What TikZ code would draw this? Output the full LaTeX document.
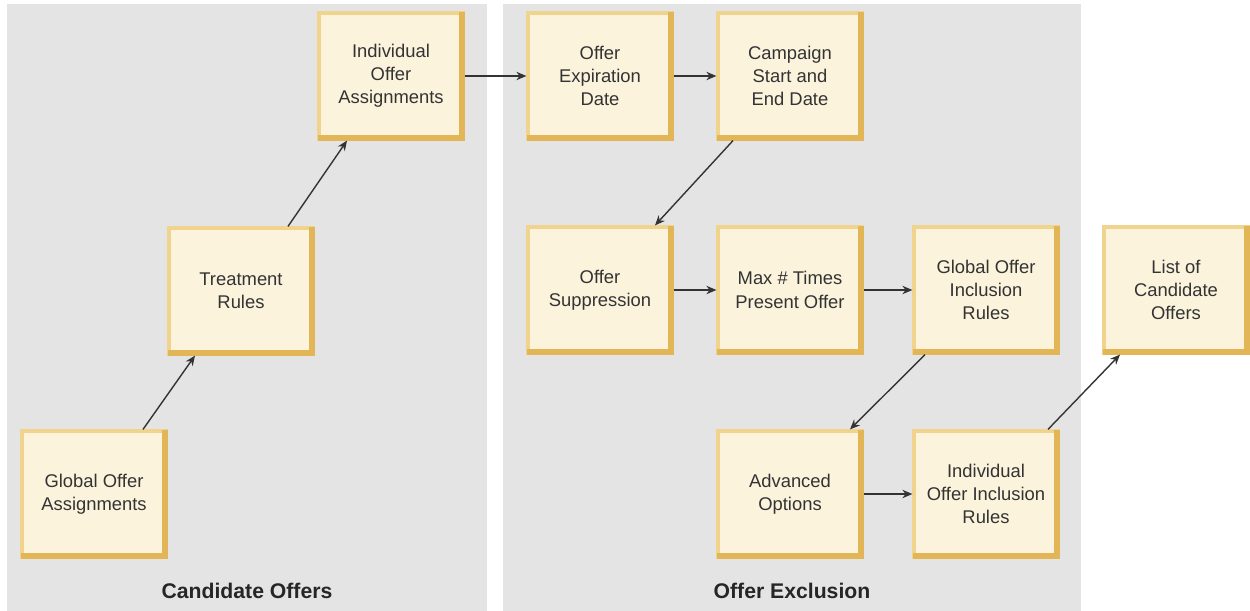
\documentclass[tikz,border=0pt]{standalone}
\usepackage{fontspec}
\setmainfont{Liberation Sans}
\usetikzlibrary{arrows.meta}
\definecolor{panel}{HTML}{E4E4E4}
\definecolor{cream}{HTML}{FBF3DC}
\definecolor{goldl}{HTML}{F0D48E}
\definecolor{goldd}{HTML}{E2B556}
\definecolor{txt}{HTML}{333333}
\tikzset{
  stepbox/.style={draw=goldl, line width=1.6pt, fill=cream, minimum width=72pt, minimum height=63pt,
    inner sep=2pt, align=center, text=txt, font=\fontsize{9.2}{11.6}\selectfont},
  arr/.style={draw=txt, line width=0.7pt, -{Stealth[length=5pt,width=4.2pt]}},
  paneltitle/.style={font=\fontsize{10.6}{12}\selectfont\bfseries, text=black!85}
}
\begin{document}
\begin{tikzpicture}[x=0.5pt,y=-0.5pt]
\useasboundingbox (0,0) rectangle (1250,611);
\fill[panel] (7,4) rectangle (487,611);
\fill[panel] (503,4) rectangle (1081,611);

\node[stepbox] (goa) at (94,494) {Global Offer\\Assignments};
\node[stepbox] (tr) at (241,291) {Treatment\\Rules};
\node[stepbox] (ioa) at (391,76) {Individual\\Offer\\Assignments};
\node[stepbox] (oed) at (600,76) {Offer\\Expiration\\Date};
\node[stepbox] (cse) at (790,76) {Campaign\\Start and\\End Date};
\node[stepbox] (os) at (600,290) {Offer\\Suppression};
\node[stepbox] (max) at (790,290) {Max \# Times\\Present Offer};
\node[stepbox] (goir) at (986,290) {Global Offer\\Inclusion\\Rules};
\node[stepbox] (lco) at (1176,290) {List of\\Candidate\\Offers};
\node[stepbox] (ao) at (790,494) {Advanced\\Options};
\node[stepbox] (ioir) at (986,494) {Individual\\Offer Inclusion\\Rules};

\foreach \n in {goa,tr,ioa,oed,cse,os,max,goir,lco,ao,ioir}{
  \draw[goldd, line width=3pt, line cap=rect]
    ([xshift=2pt,yshift=1.5pt]\n.south west) -- ([xshift=-1.5pt,yshift=1.5pt]\n.south east)
    -- ([xshift=-1.5pt,yshift=-2pt]\n.north east);
}

\draw[arr] ([xshift=24.5pt]goa.north) -- ([xshift=-23pt]tr.south);
\draw[arr] ([xshift=23.5pt]tr.north) -- ([xshift=-22pt]ioa.south);
\draw[arr] (ioa.east) -- (oed.west);
\draw[arr] (oed.east) -- (cse.west);
\draw[arr] ([xshift=-28.5pt]cse.south) -- ([xshift=27.5pt]os.north);
\draw[arr] (os.east) -- (max.west);
\draw[arr] (max.east) -- (goir.west);
\draw[arr] ([xshift=-30.5pt]goir.south) -- ([xshift=30pt]ao.north);
\draw[arr] (ao.east) -- (ioir.west);
\draw[arr] ([xshift=31pt]ioir.north) -- ([xshift=-28pt]lco.south);

\node[paneltitle] (t1) at (247,591) {Candidate Offers};
\node[paneltitle] (t2) at (792,591) {Offer Exclusion};
\end{tikzpicture}
\end{document}
